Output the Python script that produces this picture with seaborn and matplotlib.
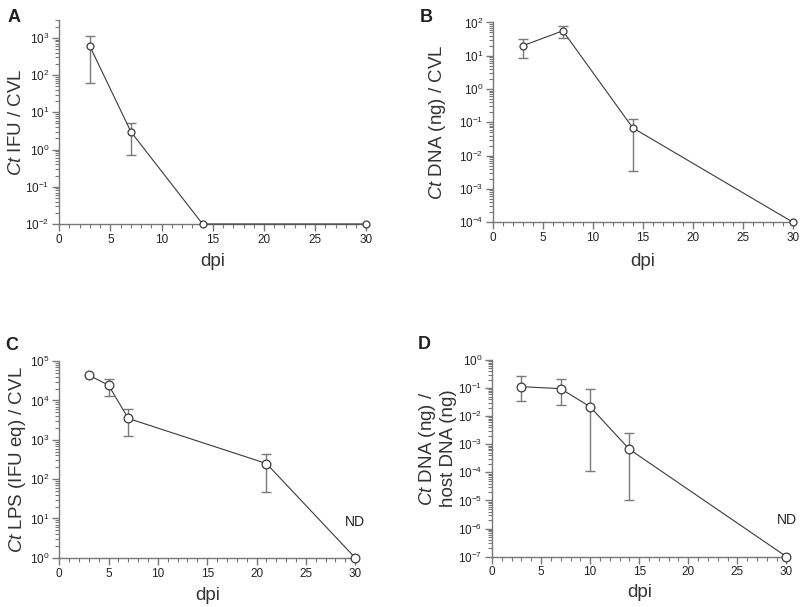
import matplotlib
matplotlib.use("Agg")
import matplotlib.pyplot as plt
import seaborn as sns
import numpy as np
from matplotlib.ticker import MultipleLocator, LogLocator, LogFormatterSciNotation, NullFormatter

# panel A: Ct IFU / CVL
days_a = [3, 7, 14, 30]
ifu = [590, 3.0, 0.01, 0.01]
ifu_lo = [63, 0.72, np.nan, np.nan]
ifu_hi = [1150, 5.3, np.nan, np.nan]

# panel B: Ct DNA (ng) / CVL
days_b = [3, 7, 14, 30]
dna = [20, 56, 0.068, 1e-4]
dna_lo = [8.3, 35, 0.0034, np.nan]
dna_hi = [32, 76, 0.13, np.nan]

# panel C: Ct LPS (IFU eq) / CVL
days_c = [3, 5, 7, 21, 30]
lps = [44000, 24500, 3500, 250, 1]
lps_lo = [np.nan, 13000, 1230, 48, np.nan]
lps_hi = [np.nan, 35500, 6000, 440, np.nan]

# panel D: Ct DNA / host DNA
days_d = [3, 7, 10, 14, 30]
ratio = [0.112, 0.095, 0.0215, 6.6e-4, 1e-7]
ratio_lo = [0.035, 0.0245, 1.15e-4, 1.07e-5, np.nan]
ratio_hi = [0.26, 0.216, 0.095, 2.6e-3, np.nan]

sns.set_style("ticks")
plt.rcParams["font.family"] = ["Liberation Sans", "DejaVu Sans"]
plt.rcParams["mathtext.fontset"] = "custom"
plt.rcParams["mathtext.rm"] = "Liberation Sans"
plt.rcParams["mathtext.it"] = "Liberation Sans:italic"

LINE = "#3a3a3a"
ERR = "#7a7a7a"
SPINE = "#777777"

fig = plt.figure(figsize=(8, 6.07), dpi=100)

panels = [
    dict(rect=[0.074, 0.631, 0.384, 0.336], x=days_a, y=ifu, lo=ifu_lo, hi=ifu_hi,
         ylim=(1e-2, 3e3), ylabel=r"$\mathit{Ct}$ IFU / CVL", letter="A", lpos=(0.010, 0.985),
         ylc=(-0.112, 0.5), xly=-0.142, ms=5, nd=False),
    dict(rect=[0.616, 0.634, 0.375, 0.329], x=days_b, y=dna, lo=dna_lo, hi=dna_hi,
         ylim=(1e-4, 1e2), ylabel=r"$\mathit{Ct}$ DNA (ng) / CVL", letter="B", lpos=(0.525, 0.985),
         ylc=(-0.149, 0.5), xly=-0.155, ms=5, nd=False),
    dict(rect=[0.074, 0.081, 0.370, 0.324], x=days_c, y=lps, lo=lps_lo, hi=lps_hi,
         ylim=(1, 1e5), ylabel=r"$\mathit{Ct}$ LPS (IFU eq) / CVL", letter="C", lpos=(0.006, 0.445),
         ylc=(-0.106, 0.5), xly=-0.146, ms=6.3, nd=True),
    dict(rect=[0.615, 0.083, 0.368, 0.324], x=days_d, y=ratio, lo=ratio_lo, hi=ratio_hi,
         ylim=(1e-7, 1), ylabel="$\\mathit{Ct}$ DNA (ng) /\nhost DNA (ng)", letter="D", lpos=(0.522, 0.447),
         ylc=(-0.12, 0.55), xly=-0.141, ms=6.3, nd=True),
]

for p in panels:
    ax = fig.add_axes(p["rect"])
    x = np.array(p["x"], dtype=float)
    y = np.array(p["y"], dtype=float)
    lo = np.array(p["lo"], dtype=float)
    hi = np.array(p["hi"], dtype=float)
    ok = ~np.isnan(lo)
    yerr = np.vstack([y[ok] - lo[ok], hi[ok] - y[ok]])
    ax.errorbar(x[ok], y[ok], yerr=yerr, fmt="none", ecolor=ERR, elinewidth=1.0,
                capsize=3.7, capthick=1.0, zorder=2, clip_on=False)
    sns.lineplot(x=x, y=y, ax=ax, color=LINE, linewidth=0.8, marker="o",
                 markersize=p["ms"], markerfacecolor="white", markeredgecolor=LINE,
                 markeredgewidth=0.9, zorder=3, clip_on=False)

    ax.set_yscale("log")
    ax.set_xlim(0, 30)
    ax.set_ylim(*p["ylim"])
    ax.xaxis.set_major_locator(MultipleLocator(5))
    ax.xaxis.set_minor_locator(MultipleLocator(1))
    ax.yaxis.set_major_locator(LogLocator(base=10, numticks=20))
    ax.yaxis.set_minor_locator(LogLocator(base=10, subs=np.arange(2, 10), numticks=20))
    ax.yaxis.set_major_formatter(LogFormatterSciNotation())
    ax.yaxis.set_minor_formatter(NullFormatter())

    sns.despine(ax=ax)
    for s in ("left", "bottom"):
        ax.spines[s].set_color(SPINE)
        ax.spines[s].set_linewidth(1.0)
    ax.tick_params(which="major", direction="out", length=5, width=1.0, color=SPINE,
                   labelsize=8.5, labelcolor="#222222", pad=2)
    ax.tick_params(which="minor", direction="out", length=3, width=0.8, color=SPINE)

    ax.set_ylabel(p["ylabel"], fontsize=13.5, color="#333333", linespacing=1.1)
    ax.yaxis.set_label_coords(*p["ylc"])
    ax.set_xlabel("dpi", fontsize=13.5, color="#333333")
    ax.xaxis.set_label_coords(0.5, p["xly"])

    if p["nd"]:
        ax.annotate("ND", xy=(x[-1], y[-1]), xytext=(0, 21), textcoords="offset points",
                    ha="center", va="bottom", fontsize=10, color="#222222")

    fig.text(p["lpos"][0], p["lpos"][1], p["letter"], fontsize=13, fontweight="bold",
             ha="left", va="top", color="#222222")

fig.savefig("out.png", dpi=100)
